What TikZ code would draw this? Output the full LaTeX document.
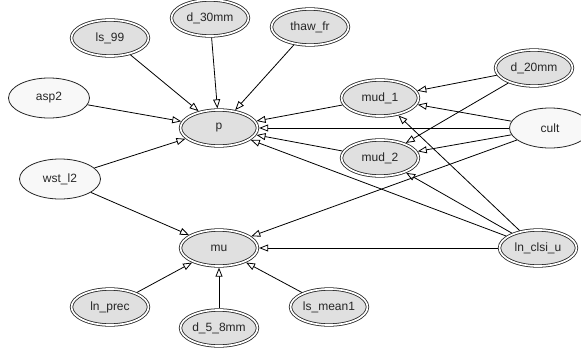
\documentclass[tikz,border=0pt]{standalone}
\usepackage{fontspec}
\setmainfont{Liberation Sans}
\usetikzlibrary{shapes.geometric,arrows.meta}
\definecolor{obsgray}{HTML}{E0E0E0}
\definecolor{latgray}{HTML}{F8F8F8}
\tikzset{
  base/.style={ellipse, inner sep=0pt, font=\fontsize{12}{14}\selectfont, text=black!85},
  obs/.style={base, draw=black!85, fill=obsgray, line width=0.8pt, double=white, double distance=1.7pt,
              minimum width=77pt, minimum height=36pt, outer sep=1.65pt},
  lat/.style={base, draw=black!85, fill=latgray, line width=0.8pt,
              minimum width=81pt, minimum height=40pt},
  edge/.style={draw=black, line width=0.8pt, -{Triangle[length=9pt,width=7pt,fill=white,line width=0.8pt]}}
}
\begin{document}
\begin{tikzpicture}[x=1pt,y=-1pt]
\useasboundingbox (0,0) rectangle (581,351);
\node[obs] (ls99) at (110,38) {ls\_99};
\node[obs] (d30) at (210,18) {d\_30mm};
\node[obs] (thaw) at (310,27) {thaw\_fr};
\node[lat] (asp2) at (49,98) {asp2};
\node[obs] (p) at (219,128) {p};
\node[lat] (wst) at (60,179) {wst\_l2};
\node[obs] (mud1) at (380,98) {mud\_1};
\node[obs] (mud2) at (380,158) {mud\_2};
\node[obs] (d20) at (534,68) {d\_20mm};
\node[lat] (cult) at (550,128) {cult};
\node[obs] (mu) at (219,248) {mu};
\node[obs] (clsi) at (538,248) {ln\_clsi\_u};
\node[obs] (prec) at (110,307) {ln\_prec};
\node[obs] (d58) at (219,328) {d\_5\_8mm};
\node[obs] (lsm) at (329,307) {ls\_mean1};
\path[edge] (ls99) -- (p);
\path[edge] (d30) -- (p);
\path[edge] (thaw) -- (p);
\path[edge] (asp2) -- (p);
\path[edge] (wst) -- (p);
\path[edge] (mud1) -- (p);
\path[edge] (cult) -- (p);
\path[edge] (mud2) -- (p);
\path[edge] (clsi) -- (p);
\path[edge] (d20) -- (mud1);
\path[edge] (cult) -- (mud1);
\path[edge] (d20) -- (mud2);
\path[edge] (cult) -- (mud2);
\path[edge] (clsi) -- (mud1);
\path[edge] (clsi) -- (mud2);
\path[edge] (wst) -- (mu);
\path[edge] (cult) -- (mu);
\path[edge] (clsi) -- (mu);
\path[edge] (prec) -- (mu);
\path[edge] (d58) -- (mu);
\path[edge] (lsm) -- (mu);
\end{tikzpicture}
\end{document}
